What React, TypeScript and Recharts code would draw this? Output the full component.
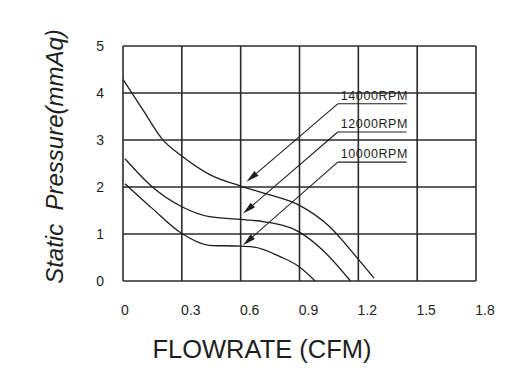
import React from 'react'
import { LineChart, Line, XAxis, YAxis, CartesianGrid, ReferenceLine, Label } from 'recharts'

// Flowrate (CFM) vs static pressure (mmAq) for each fan speed
const rpm14000 = [
  { x: 0, y: 4.29 },
  { x: 0.1, y: 3.65 },
  { x: 0.2, y: 3.02 },
  { x: 0.3, y: 2.66 },
  { x: 0.44, y: 2.27 },
  { x: 0.6, y: 2.02 },
  { x: 0.75, y: 1.83 },
  { x: 0.9, y: 1.61 },
  { x: 1.05, y: 1.17 },
  { x: 1.2, y: 0.46 },
  { x: 1.28, y: 0.06 },
]

const rpm12000 = [
  { x: 0.01, y: 2.6 },
  { x: 0.15, y: 2.0 },
  { x: 0.3, y: 1.58 },
  { x: 0.44, y: 1.37 },
  { x: 0.6, y: 1.31 },
  { x: 0.72, y: 1.26 },
  { x: 0.9, y: 1.04 },
  { x: 1.02, y: 0.65 },
  { x: 1.16, y: 0 },
]

const rpm10000 = [
  { x: 0.01, y: 2.07 },
  { x: 0.15, y: 1.54 },
  { x: 0.3, y: 1.01 },
  { x: 0.44, y: 0.76 },
  { x: 0.6, y: 0.74 },
  { x: 0.67, y: 0.72 },
  { x: 0.8, y: 0.52 },
  { x: 0.9, y: 0.3 },
  { x: 0.98, y: 0 },
]

const xTicks = [0, 0.3, 0.6, 0.9, 1.2, 1.5, 1.8]
const yTicks = [0, 1, 2, 3, 4, 5]

// callouts: label, underline (from x0 to x1 at y), arrow tip
const calloutLabels = ['14000RPM', '12000RPM', '10000RPM']
const calloutLineY = [3.77, 3.17, 2.53]
const calloutX = [1.095, 1.446]
const calloutTips = [
  { x: 0.63, y: 2.11 },
  { x: 0.612, y: 1.435 },
  { x: 0.612, y: 0.76 },
]

const INK = '#1e1e1e'
const FONT = '"Liberation Sans", Arial, sans-serif'

const XTick = ({ x, y, payload }: any) => (
  <text
    x={x + (payload.value === 0 ? 2 : 9)}
    y={y + 29}
    textAnchor="middle"
    dominantBaseline="central"
    fontSize={14}
    fontFamily={FONT}
    fill={INK}
  >
    {payload.value}
  </text>
)

const YTick = ({ x, y, payload }: any) => (
  <text
    x={x - 19}
    y={y}
    textAnchor="end"
    dominantBaseline="central"
    fontSize={14}
    fontFamily={FONT}
    fill={INK}
  >
    {payload.value}
  </text>
)

const YTitle = ({ viewBox }: any) => {
  const cx = 63
  const cy = viewBox.y + viewBox.height / 2 - 7
  return (
    <text
      x={cx}
      y={cy}
      transform={`rotate(-90, ${cx}, ${cy})`}
      textAnchor="middle"
      fontSize={24}
      fontStyle="italic"
      fontFamily={FONT}
      fill={INK}
      style={{ whiteSpace: 'pre' }}
    >
      {'Static  Pressure(mmAq)'}
    </text>
  )
}

const XTitle = ({ viewBox }: any) => (
  <text
    x={viewBox.x + 139}
    y={viewBox.y + 77}
    textAnchor="middle"
    fontSize={25.5}
    fontFamily={FONT}
    fill={INK}
  >
    FLOWRATE (CFM)
  </text>
)

// leader line with a filled arrow head at the second point
const ArrowShape = (props: any) => {
  const { x1, y1, x2, y2 } = props
  if ([x1, y1, x2, y2].some((v) => v === undefined || isNaN(v))) return null
  const ang = Math.atan2(y2 - y1, x2 - x1)
  const len = 13
  const half = 3.2
  const bx = x2 - len * Math.cos(ang)
  const by = y2 - len * Math.sin(ang)
  const px = -Math.sin(ang) * half
  const py = Math.cos(ang) * half
  return (
    <g>
      <line x1={x1} y1={y1} x2={bx} y2={by} stroke={INK} strokeWidth={1.1} />
      <polygon points={`${x2},${y2} ${bx + px},${by + py} ${bx - px},${by - py}`} fill={INK} />
    </g>
  )
}

const CalloutText = (text: string) => ({ viewBox }: any) => (
  <text
    x={viewBox.x + 3}
    y={viewBox.y - 4}
    fontSize={12.5}
    letterSpacing={0.6}
    fontFamily={FONT}
    fill={INK}
  >
    {text}
  </text>
)

export default function App() {
  return (
    <div style={{ position: 'absolute', left: 0, top: 0, background: '#fff' }}>
      <LineChart width={529} height={377} margin={{ top: 46, right: 53, left: 0, bottom: 0 }}>
        <CartesianGrid stroke="#2b2b2b" strokeWidth={1.6} />
        <XAxis
          dataKey="x"
          type="number"
          domain={[0, 1.8]}
          ticks={xTicks}
          axisLine={false}
          tickLine={false}
          tickSize={0}
          tickMargin={0}
          height={96}
          tick={<XTick />}
          allowDuplicatedCategory={false}
        >
          <Label content={<XTitle />} />
        </XAxis>
        <YAxis
          type="number"
          domain={[0, 5]}
          ticks={yTicks}
          axisLine={false}
          tickLine={false}
          tickSize={0}
          tickMargin={0}
          width={123}
          tick={<YTick />}
        >
          <Label content={<YTitle />} />
        </YAxis>
        <Line data={rpm14000} dataKey="y" type="monotone" stroke={INK} strokeWidth={1.3} dot={false} isAnimationActive={false} />
        <Line data={rpm12000} dataKey="y" type="monotone" stroke={INK} strokeWidth={1.3} dot={false} isAnimationActive={false} />
        <Line data={rpm10000} dataKey="y" type="monotone" stroke={INK} strokeWidth={1.3} dot={false} isAnimationActive={false} />
        {calloutLabels.map((label, i) => (
          <ReferenceLine
            key={`u-${label}`}
            segment={[
              { x: calloutX[0], y: calloutLineY[i] },
              { x: calloutX[1], y: calloutLineY[i] },
            ]}
            stroke={INK}
            strokeWidth={1.1}
            ifOverflow="visible"
            label={<Label content={CalloutText(label)} />}
          />
        ))}
        {calloutLabels.map((label, i) => (
          <ReferenceLine
            key={`a-${label}`}
            segment={[
              { x: calloutX[0], y: calloutLineY[i] },
              { x: calloutTips[i].x, y: calloutTips[i].y },
            ]}
            ifOverflow="visible"
            shape={<ArrowShape />}
          />
        ))}
      </LineChart>
    </div>
  )
}
